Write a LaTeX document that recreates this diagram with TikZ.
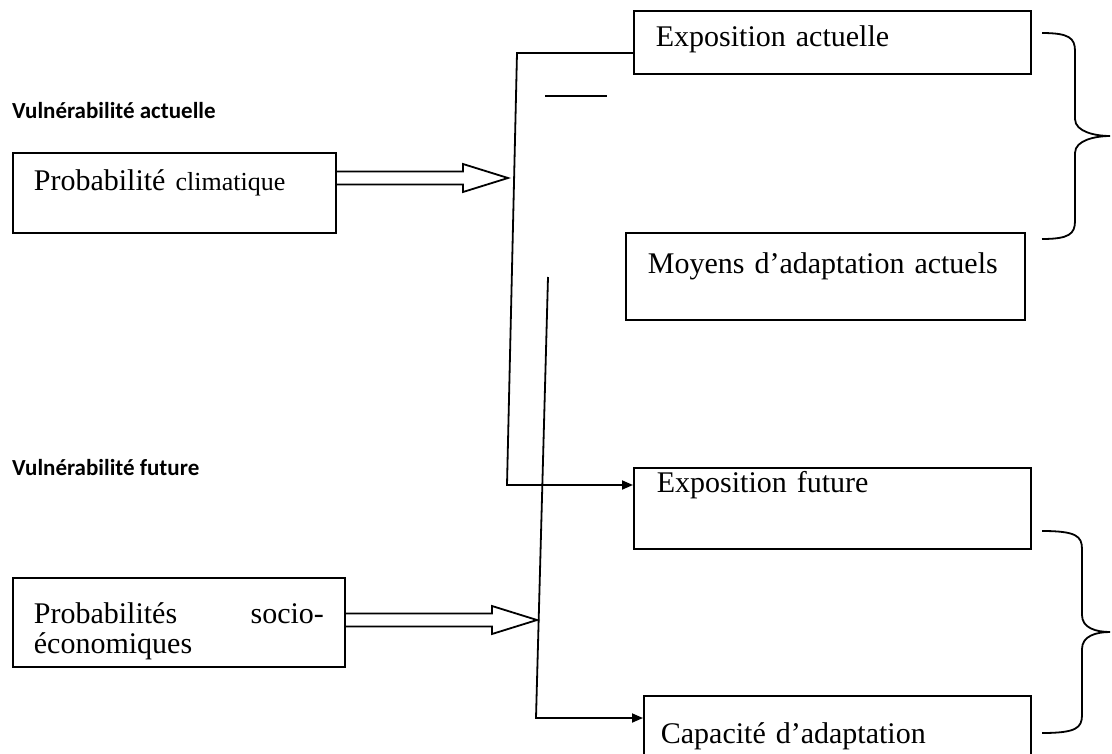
\documentclass[tikz,border=0pt]{standalone}
\usepackage{fontspec}
\setmainfont{Liberation Serif}
\newfontfamily\titrefont{Carlito}
\usetikzlibrary{arrows.meta,calc}

\tikzset{
  cadre/.style={draw, line width=1.8pt, anchor=north west, inner ysep=0pt,
    align=left, font=\fontsize{30}{30}\selectfont},
  titre/.style={anchor=base west, inner sep=0pt,
    font=\titrefont\bfseries\fontsize{23}{26}\selectfont},
  trait/.style={line width=1.8pt},
  fleche/.style={trait, -{Triangle[length=11pt,width=9pt]}},
  creux/.style={line width=1.8pt, line join=miter},
}
% hollow double arrow from #1 to #2
\newcommand{\doublefleche}[2]{%
  \draw[creux] ($(#1)+(0,-6.5)$) -- ($(#2)+(-45,-6.5)$) -- ($(#2)+(-45,-14)$)
    -- (#2) -- ($(#2)+(-45,14)$) -- ($(#2)+(-45,6.5)$) -- ($(#1)+(0,6.5)$);}
% right curly brace: x of ends, x of stem, top, bottom
\newcommand{\accolade}[4]{%
  \draw[trait] (#1,#3) .. controls (#2-6,#3) and (#2,#3+5) .. (#2,#3+18)
    -- (#2,{(#3+#4)/2-17}) .. controls (#2,{(#3+#4)/2-4}) and (1096,{(#3+#4)/2}) .. (1110,{(#3+#4)/2})
    .. controls (1096,{(#3+#4)/2}) and (#2,{(#3+#4)/2+4}) .. (#2,{(#3+#4)/2+17})
    -- (#2,#4-18) .. controls (#2,#4-5) and (#2-6,#4) .. (#1,#4);}

\begin{document}
\begin{tikzpicture}[x=1pt,y=-1pt]
  \useasboundingbox (0,0) rectangle (1112,753);

  % titles
  \node[titre] (tact) at (12,118) {Vulnérabilité actuelle};
  \node[titre] (tfut) at (12,475) {Vulnérabilité future};

  % boxes
  \node[cadre, inner xsep=21pt, text width=281pt, text height=38pt, text depth=42pt]
    (clim) at (12,152) {Probabilité {\fontsize{26}{26}\selectfont climatique}};
  \node[cadre, inner xsep=21pt, text width=290pt, text height=46pt, text depth=43pt]
    (socio) at (12,577) {Probabilités\hfill socio-\\économiques};
  \node[cadre, inner xsep=22pt, text width=353pt, text height=36pt, text depth=27pt]
    (expact) at (633,10) {Exposition actuelle};
  \node[cadre, inner xsep=22pt, text width=355pt, text height=41pt, text depth=46pt]
    (moyens) at (625,232) {Moyens d’adaptation actuels};
  \node[cadre, inner xsep=23pt, text width=351pt, text height=25pt, text depth=56pt]
    (expfut) at (633,467) {Exposition future};
  \node[cadre, inner xsep=17pt, text width=353pt, text height=48pt, text depth=11pt]
    (capa) at (643,695) {Capacité d’adaptation};

  % hollow arrows
  \coordinate (p1) at (508,178);
  \coordinate (d1) at (clim.east |- p1);
  \doublefleche{d1}{p1}
  \coordinate (p2) at (537,620);
  \coordinate (d2) at (socio.east |- p2);
  \doublefleche{d2}{p2}

  % connectors
  \coordinate (hautA) at (517,53);
  \coordinate (coinA) at (507,485);
  \draw[fleche] (hautA -| expact.west) -- (hautA) -- (coinA) -- (coinA -| expfut.west);
  \draw[trait] (545,96) -- (607,96);
  \coordinate (hautB) at (548,277);
  \coordinate (coinB) at (536,718);
  \draw[fleche] (hautB) -- (coinB) -- (coinB -| capa.west);

  % braces
  \accolade{1042}{1075}{33}{239}
  \accolade{1042}{1082}{531}{733}
\end{tikzpicture}
\end{document}
